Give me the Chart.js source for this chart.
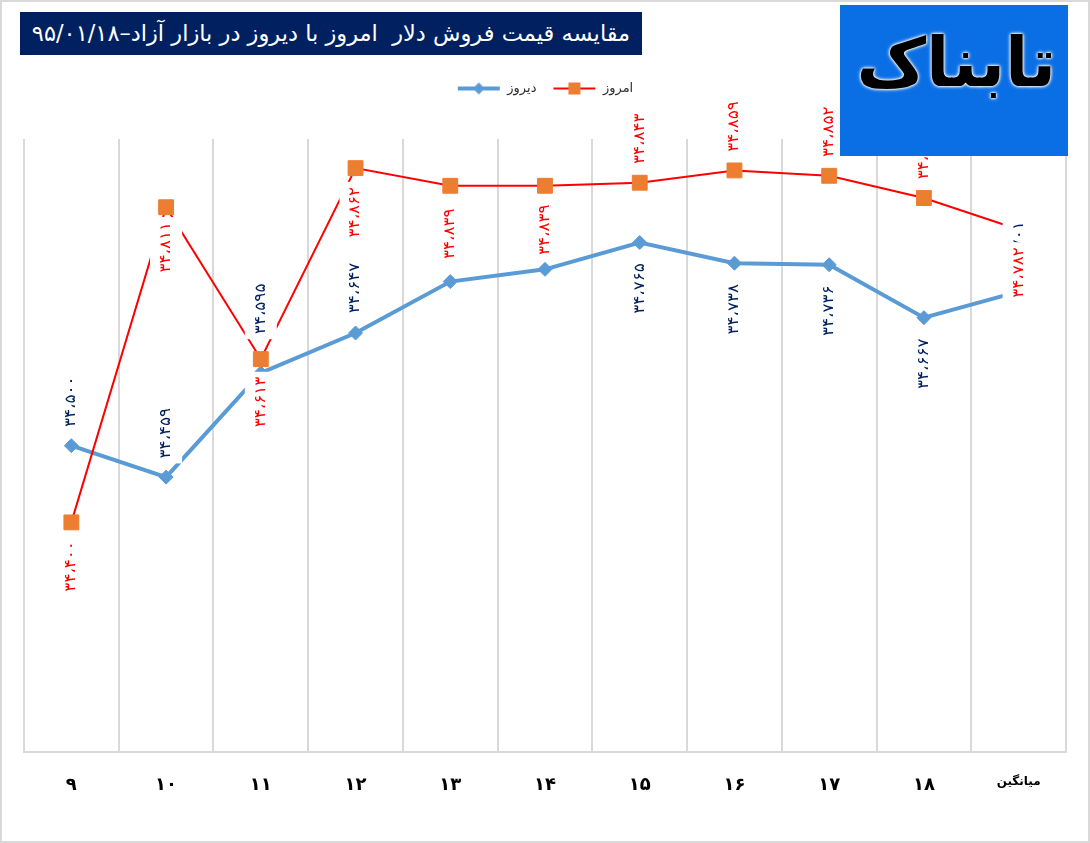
<!DOCTYPE html>
<html>
<head>
<meta charset="UTF-8">
<title>مقایسه قیمت دلار</title>
<script src="https://cdn.jsdelivr.net/npm/chart.js@4.4.0/dist/chart.umd.min.js"></script>
<style>
  body { margin: 0; background: #fff; }
  #wrap { position: relative; width: 1090px; height: 843px; }
  #frame { position: absolute; left: 0; top: 0; width: 1090px; height: 843px;
           box-sizing: border-box; border: 2px solid #d9d9d9; pointer-events: none; }
  #title { position: absolute; left: 20px; top: 12px; width: 622px; height: 43px;
           background: #002060; color: #fff; font: 22.5px "DejaVu Sans"; direction: rtl;
           text-align: center; line-height: 43px; white-space: pre; }
  #logo { position: absolute; left: 840px; top: 5px; width: 228px; height: 151px;
          background: #0a6fe4; overflow: hidden; direction: rtl; }
  #logo span { position: absolute; right: 12px; top: 18px; font: bold 68px "DejaVu Sans";
               color: #000; text-shadow: 0 0 2px #fff, 0 0 3px #fff, 0 0 4px #fff; }
</style>
</head>
<body>
<div id="wrap">
  <canvas id="myChart" width="1090" height="843"></canvas>
  <div id="title">مقایسه قیمت فروش دلار  امروز با دیروز در بازار آزاد–۹۵/۰۱/۱۸</div>
  <div id="logo"><span>تابناک</span></div>
  <div id="frame"></div>
</div>
<script>
// days of farvardin 1395, last one is the average
var categories = ['۹', '۱۰', '۱۱', '۱۲', '۱۳', '۱۴', '۱۵', '۱۶', '۱۷', '۱۸', 'میانگین'];
var diruz = [34500, 34459, 34595, 34647, 34714, 34730, 34765, 34738, 34736, 34667, 34701];
var emruz = [34400, 34811, 34613, 34862, 34839, 34839, 34843, 34859, 34852, 34823, 34782];
var yMin = 34100;
var yMax = 34900;

// label offsets (px) from each point, negative = above
var diruzLabelOff = [-44, -44, -64, -45, -44, -44, 46, 46, 46, 46, -45];
var emruzLabelOff = [44, 40, 43, 44, 48, 44, -44, -44, -44, -44, 43];

var blue = '#5b9bd5';
var red = '#ff0000';
var orange = '#ed7d31';

function faNum(n) {
  var s = String(n);
  s = s.slice(0, s.length - 3) + '،' + s.slice(s.length - 3);
  return s.replace(/[0-9]/g, function (d) { return '۰۱۲۳۴۵۶۷۸۹'[+d]; });
}

function legendIcon(lineColor, lineW, drawMarker) {
  var c = document.createElement('canvas');
  c.width = 44; c.height = 16;
  var g = c.getContext('2d');
  g.strokeStyle = lineColor; g.lineWidth = lineW;
  g.beginPath(); g.moveTo(1, 8); g.lineTo(43, 8); g.stroke();
  drawMarker(g);
  return c;
}
var blueIcon = legendIcon(blue, 4, function (g) {
  g.fillStyle = blue; g.beginPath();
  g.moveTo(22, 2); g.lineTo(28, 8); g.lineTo(22, 14); g.lineTo(16, 8); g.closePath(); g.fill();
});
var redIcon = legendIcon(red, 2, function (g) {
  g.fillStyle = orange; g.fillRect(16, 2, 12, 12);
});

// extra space under the legend
var legendGap = {
  id: 'legendGap',
  beforeInit: function (chart) {
    var fit = chart.legend.fit;
    chart.legend.fit = function () {
      fit.bind(chart.legend)();
      this.height += 34;
    };
  }
};

var valueLabels = {
  id: 'valueLabels',
  afterDatasetsDraw: function (chart) {
    var ctx = chart.ctx;
    var sets = [
      { idx: 0, vals: diruz, off: diruzLabelOff, color: '#002060' },
      { idx: 1, vals: emruz, off: emruzLabelOff, color: red }
    ];
    ctx.save();
    ctx.font = '15px "DejaVu Sans"';
    sets.forEach(function (s) {
      var meta = chart.getDatasetMeta(s.idx);
      meta.data.forEach(function (pt, i) {
        var txt = faNum(s.vals[i]);
        var w = ctx.measureText(txt).width * 1.12;
        ctx.save();
        ctx.translate(pt.x, pt.y + s.off[i]);
        ctx.rotate(-Math.PI / 2);
        ctx.fillStyle = '#fff';
        ctx.fillRect(-w / 2 - 5, -16, w + 10, 32);
        ctx.fillStyle = s.color;
        ctx.textAlign = 'center';
        ctx.textBaseline = 'middle';
        ctx.scale(1.12, 1);
        ctx.fillText(txt, 0, 0);
        ctx.restore();
      });
    });
    ctx.restore();
  }
};

var ctx = document.getElementById('myChart').getContext('2d');
var chart = new Chart(ctx, {
  type: 'line',
  data: {
    labels: categories,
    datasets: [{
      label: 'دیروز',
      data: diruz,
      borderColor: blue,
      backgroundColor: blue,
      borderWidth: 4,
      pointStyle: 'rectRot',
      pointRadius: 7,
      pointBorderWidth: 1,
      tension: 0,
      order: 1
    }, {
      label: 'امروز',
      data: emruz,
      borderColor: red,
      backgroundColor: orange,
      pointBorderColor: orange,
      borderWidth: 2,
      pointStyle: 'rect',
      pointRadius: 10.5,
      pointBorderWidth: 1,
      tension: 0,
      order: 0
    }]
  },
  options: {
    responsive: false,
    animation: false,
    devicePixelRatio: 1,
    layout: { padding: { left: 24, right: 24, top: 66, bottom: 25 } },
    plugins: {
      legend: {
        position: 'top',
        labels: {
          usePointStyle: true,
          pointStyleWidth: 44,
          boxHeight: 13,
          padding: 16,
          color: '#303030',
          font: { family: 'DejaVu Sans', size: 13 },
          sort: function (a, b) { return a.datasetIndex - b.datasetIndex; },
          generateLabels: function (ch) {
            return ch.data.datasets.map(function (ds, i) {
              return {
                text: ds.label, datasetIndex: i, hidden: false,
                pointStyle: i === 0 ? blueIcon : redIcon,
                fontColor: '#303030', lineWidth: 0, strokeStyle: 'transparent', fillStyle: 'transparent'
              };
            });
          }
        }
      },
      tooltip: { enabled: false }
    },
    scales: {
      x: {
        offset: true,
        grid: { offset: true, color: '#d9d9d9', lineWidth: 2, drawTicks: false },
        border: { color: '#d9d9d9', width: 2 },
        ticks: {
          color: '#000',
          padding: 22,
          font: function (c) {
            return c.index === 10 ? { family: 'DejaVu Sans', size: 12, weight: 'bold' }
                                  : { family: 'DejaVu Sans', size: 18, weight: 'bold' };
          }
        }
      },
      y: { display: false, min: yMin, max: yMax }
    }
  },
  plugins: [legendGap, valueLabels]
});
</script>
</body>
</html>
